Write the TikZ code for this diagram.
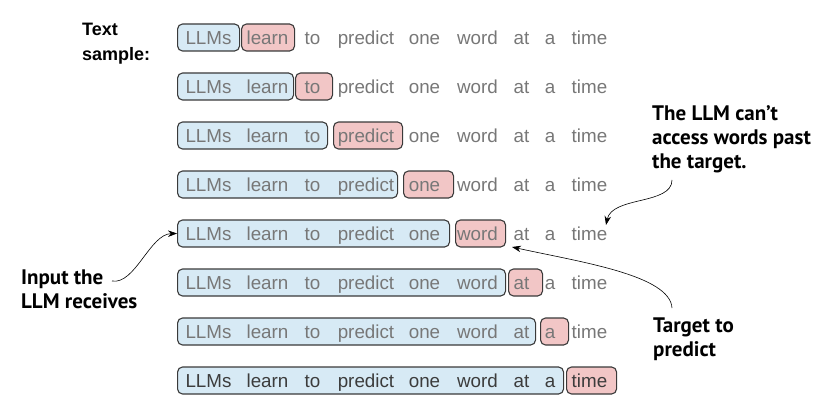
\documentclass[tikz,border=0pt]{standalone}
\usepackage{fontspec}
\setmainfont{Liberation Sans}
\newfontfamily\labelfont{PT Sans}
\usetikzlibrary{arrows.meta,calc}
\definecolor{wordgray}{HTML}{777777}
\definecolor{worddark}{HTML}{3C3C3C}
\definecolor{inblue}{HTML}{D7EAF5}
\definecolor{tgtred}{HTML}{F2C6C6}
\definecolor{edgegray}{HTML}{3A3A3A}
\begin{document}
\begin{tikzpicture}[x=1pt,y=-1pt,
  box/.style={draw=edgegray, line width=1.1pt, rounded corners=5pt, inner sep=0pt, minimum height=27pt, anchor=west},
  inbox/.style={box, fill=inblue},
  tgtbox/.style={box, fill=tgtred},
  word/.style={inner sep=0pt, anchor=base, font=\fontsize{18.8}{22}\selectfont},
  note/.style={font=\labelfont\bfseries\fontsize{21}{24}\selectfont, align=left, inner sep=0pt, anchor=north west},
  callout/.style={-{Stealth[length=9pt,width=6.5pt]}, line width=0.6pt, draw=black}
]
\useasboundingbox (0,0) rectangle (838,412);

\foreach \r/\be/\tl/\tr in {1/239/241/294, 2/293/295/332, 3/327/333/402, 4/397/403/453, 5/449/455/505, 6/505/508/542, 7/535/540/568, 8/563/566/616}{
  \pgfmathsetmacro\yc{37.5+49*(\r-1)}
  \node[inbox, minimum width={\be-177}] (b\r) at (177,\yc) {};
  \node[tgtbox, minimum width={\tr-\tl}] (t\r) at (\tl,\yc) {};
}

\foreach \r in {1,...,8}{
  \pgfmathsetmacro\yb{37.5+49*(\r-1)+6.6}
  \ifnum\r=8 \def\wc{worddark}\else\def\wc{wordgray}\fi
  \foreach \w/\x [count=\i] in {LLMs/208.5, learn/267.5, to/312.5, predict/366, one/424.5, word/477.5, at/521.5, a/550, time/589.5}{
    \node[word, text=\wc] (w\r-\i) at (\x,\yb) {\w};
  }
}

\node[font=\bfseries\fontsize{18}{22}\selectfont, align=left, inner sep=0pt, anchor=north west] (ts) at (82,23) {Text\\[3pt]sample:};

\node[note] (n1) at (652,105) {The LLM can’t\\access words past\\the target.};
\node[note] (n2) at (21,270) {Input the\\LLM receives};
\node[note] (n3) at (653,318) {Target to\\predict};

\coordinate (a1s) at (112,281);
\coordinate (a2s) at (672,180);
\coordinate (a2e) at (606,225);
\coordinate (a3s) at (672,308);
\coordinate (a3e) at (512,247);

\draw[callout] (a1s) .. controls (135,285) and (150,234) .. (b5.west);
\draw[callout] (a2s) .. controls (672,205) and (612,196) .. (a2e);
\draw[callout] (a3s) .. controls (670,275) and (580,262) .. (a3e);
\end{tikzpicture}
\end{document}
